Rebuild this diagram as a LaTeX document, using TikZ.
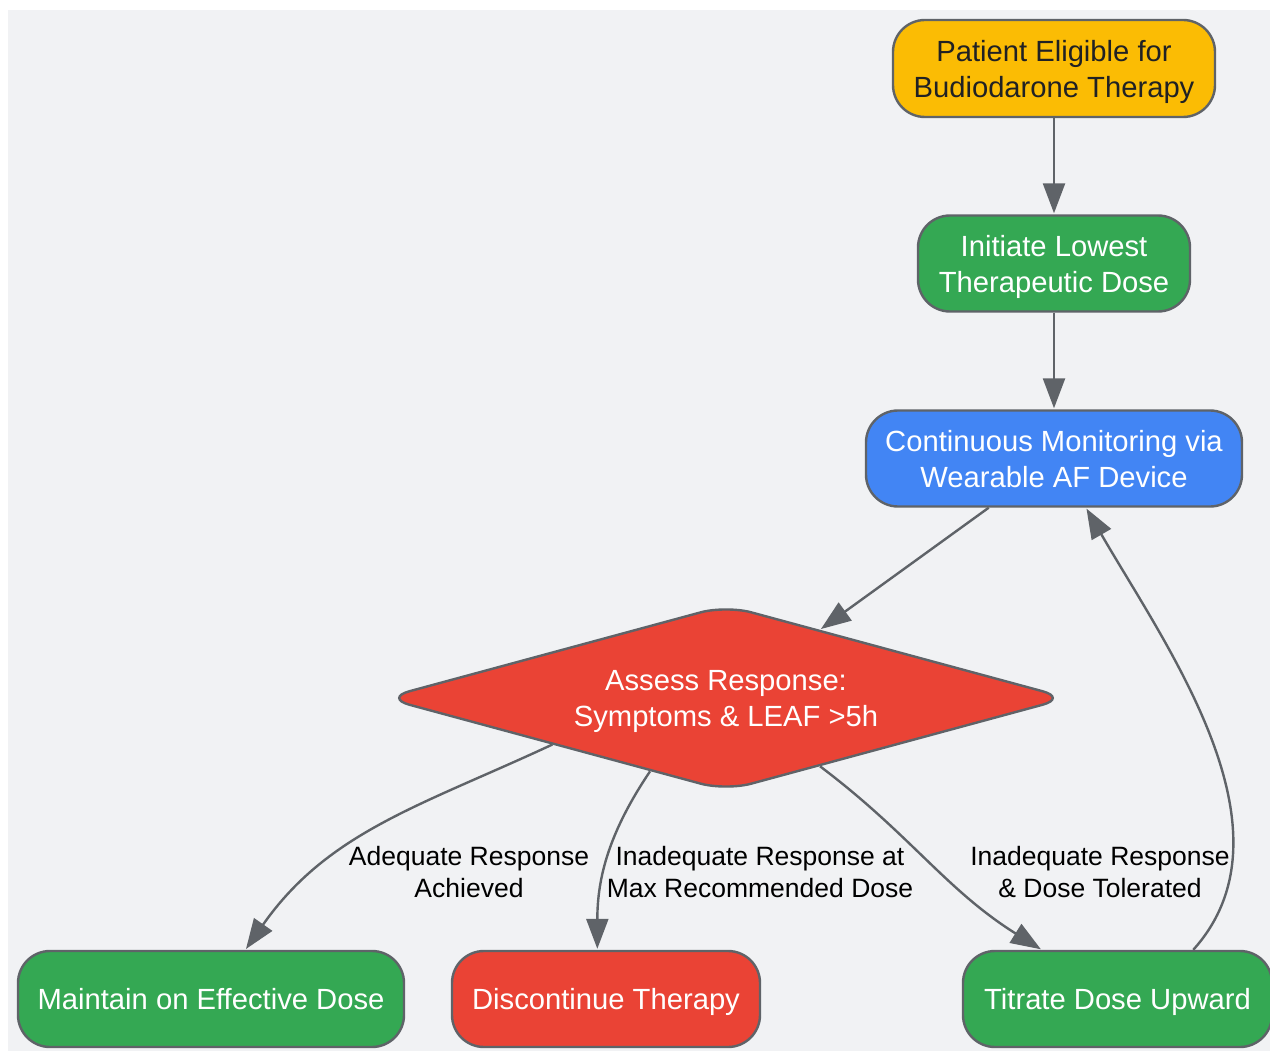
\documentclass[tikz,border=0pt]{standalone}
\usepackage{fontspec}
\setmainfont{Liberation Sans}
\usetikzlibrary{shapes.geometric,arrows.meta}

\definecolor{bggray}{HTML}{F1F2F4}
\definecolor{edgegray}{HTML}{5F6368}
\definecolor{textdark}{HTML}{202124}
\definecolor{gyellow}{HTML}{FBBC04}
\definecolor{ggreen}{HTML}{34A853}
\definecolor{gblue}{HTML}{4285F4}
\definecolor{gred}{HTML}{EA4335}

\tikzset{
  stepbox/.style={rectangle, rounded corners=32pt, draw=edgegray, line width=2.4pt, minimum height=96pt, inner sep=0pt, text depth=0pt, align=center, text=white, font=\fontsize{29.2}{36}\selectfont},
  checkbox/.style={diamond, shape aspect=3.7, rounded corners=26pt, draw=edgegray, line width=2.4pt, fill=gred, minimum width=684pt, minimum height=186pt, inner sep=0pt, text depth=0pt, align=center, text=white, font=\fontsize{29.2}{36}\selectfont},
  lbl/.style={align=center, text=black, font=\fontsize{26.5}{32}\selectfont},
}

\begin{document}
\begin{tikzpicture}[->,>={Triangle[length=30pt,width=22pt]},shorten >=1pt,auto,node distance=195pt,x=1pt,y=-1pt,line width=2.4pt,every edge/.append style={draw=edgegray}]
                        \useasboundingbox (0,0) rectangle (1270,1051);
                        \fill[bggray, -] (8,10) rectangle (1270,1051);

                        \node [stepbox, fill=gyellow, text=textdark, minimum width=322pt, minimum height=97pt](1) at (1054,68.5){Patient Eligible for\\Budiodarone Therapy};
                        \node [stepbox, fill=ggreen, minimum width=272pt](2) [below of = 1]{Initiate Lowest\\Therapeutic Dose};
                        \node [stepbox, fill=gblue, minimum width=376pt](3) [below of = 2]{Continuous Monitoring via\\Wearable AF Device};

                        \node [checkbox](4) at (726,698){Assess Response:\\Symptoms \& LEAF >5h};

                        \node [stepbox, fill=ggreen, minimum width=386pt](5) at (211,999){Maintain on Effective Dose};
                        \node [stepbox, fill=gred, minimum width=308pt](6) at (606,999){Discontinue Therapy};
                        \node [stepbox, fill=ggreen, minimum width=309pt](7) at (1117.5,999){Titrate Dose Upward};

                        \node [lbl](8) at (469,872){Adequate Response\\Achieved};
                        \node [lbl](9) at (760,872){Inadequate Response at\\Max Recommended Dose};
                        \node [lbl](10) at (1100,872){Inadequate Response\\\& Dose Tolerated};

                        \path
                            (1) edge (2)
                            (2) edge (3)
                            (3.217) edge (4.36)
                            (4.195) edge[out=205, in=55] (5)
                            (4.224) edge[out=236, in=90] (6.100)
                            (4.324) edge[out=-37, in=148] (7.147)
                            (7.33) edge[out=48, in=-60, looseness=0.9] (3.303)
                        ;
                    \end{tikzpicture}
\end{document}
